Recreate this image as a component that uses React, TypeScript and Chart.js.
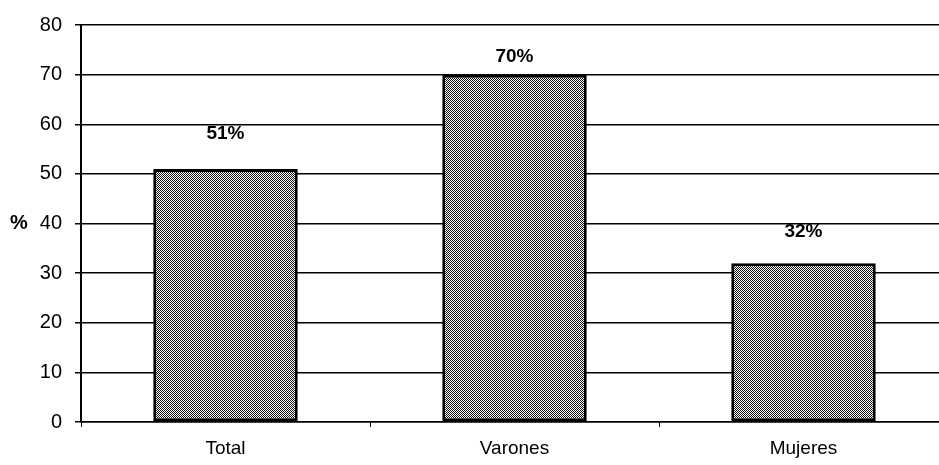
import React, { useEffect, useRef } from "react";
import { Chart, registerables } from "chart.js";

Chart.register(...registerables);

const categories = ["Total", "Varones", "Mujeres"];
const values = [51, 70, 32];
const valueLabels = ["51%", "70%", "32%"];
const yTicks = [0, 10, 20, 30, 40, 50, 60, 70, 80];
const yTitle = "%";

const FONT = "Arial, 'Liberation Sans', sans-serif";
const labelOffsets = [35, 18, 31];

function makePattern(): CanvasPattern | string {
  const c = document.createElement("canvas");
  c.width = 4;
  c.height = 4;
  const g = c.getContext("2d");
  if (!g) return "#888";
  g.fillStyle = "#fff";
  g.fillRect(0, 0, 4, 4);
  g.fillStyle = "#111";
  for (let y = 0; y < 4; y++) {
    for (let x = 0; x < 4; x++) {
      if ((x + y) % 2 === 0) g.fillRect(x, y, 1, 1);
    }
  }
  const p = g.createPattern(c, "repeat");
  return p || "#888";
}

export default function App() {
  const ref = useRef<HTMLCanvasElement | null>(null);

  useEffect(() => {
    if (!ref.current) return;
    const labelPlugin = {
      id: "labels",
      afterDatasetsDraw(chart: any) {
        const ctx = chart.ctx;
        const meta = chart.getDatasetMeta(0);
        ctx.save();
        ctx.fillStyle = "#000";
        ctx.font = `bold 19px ${FONT}`;
        ctx.textAlign = "center";
        ctx.textBaseline = "middle";
        meta.data.forEach((bar: any, i: number) => {
          ctx.fillText(valueLabels[i], bar.x, bar.y - labelOffsets[i]);
        });
        const ys = chart.scales.y;
        ctx.font = `bold 20px ${FONT}`;
        ctx.fillText(yTitle, 19, ys.getPixelForValue(40));
        ctx.restore();
      },
    };

    const chart = new Chart(ref.current, {
      type: "bar",
      data: {
        labels: categories,
        datasets: [
          {
            data: values,
            backgroundColor: makePattern() as any,
            borderColor: "#000",
            borderWidth: 3,
            borderSkipped: false,
            barPercentage: 0.5,
            categoryPercentage: 1,
          },
        ],
      },
      options: {
        responsive: false,
        animation: false,
        devicePixelRatio: 1,
        layout: { padding: { top: 25, right: 2, left: 0, bottom: 0 } },
        plugins: { legend: { display: false }, tooltip: { enabled: false } },
        scales: {
          x: {
            grid: {
              display: true,
              drawOnChartArea: false,
              drawTicks: true,
              tickLength: 5,
              color: "#000",
              lineWidth: 1,
            },
            border: { display: true, color: "#000", width: 1.5 },
            ticks: {
              color: "#000",
              font: { family: FONT, size: 19 },
              padding: 10,
            },
            afterFit(scale: any) {
              scale.height = 43;
            },
          },
          y: {
            min: 0,
            max: 80,
            afterBuildTicks(scale: any) {
              scale.ticks = yTicks.map((v) => ({ value: v }));
            },
            grid: {
              color: "#000",
              lineWidth: 1.5,
              tickLength: 6,
              drawTicks: true,
            },
            border: { display: true, color: "#000", width: 2 },
            ticks: {
              color: "#000",
              font: { family: FONT, size: 20 },
              padding: 13,
            },
            afterFit(scale: any) {
              scale.width = 81;
            },
          },
        },
      },
      plugins: [labelPlugin],
    });
    return () => chart.destroy();
  }, []);

  return (
    <div
      style={{
        position: "fixed",
        left: 0,
        top: 0,
        width: 939,
        height: 465,
        overflow: "hidden",
        background: "#fff",
      }}
    >
      <canvas ref={ref} width={950} height={465} style={{ width: 950, height: 465 }} />
    </div>
  );
}
